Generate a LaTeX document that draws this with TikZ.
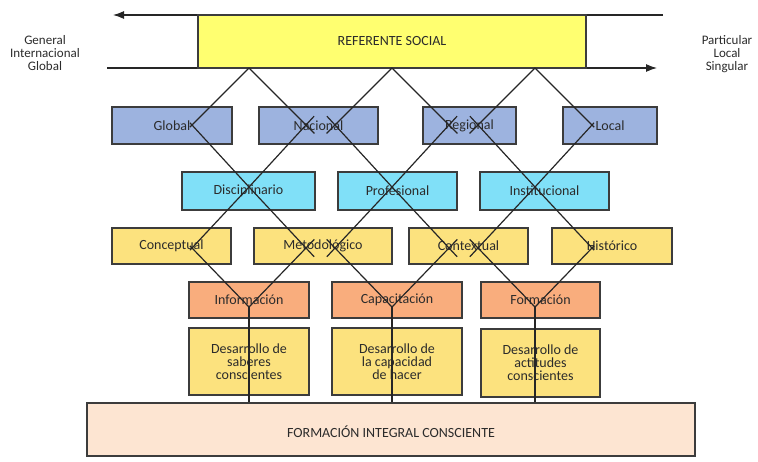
\documentclass[tikz,border=0pt]{standalone}
\usepackage{fontspec}
\setmainfont{Carlito}
\usepackage{xcolor}
\usepackage{tikz}
\usetikzlibrary{arrows.meta}

\definecolor{refyellow}{HTML}{FFFF70}
\definecolor{levblue}{HTML}{9DB3DF}
\definecolor{levcyan}{HTML}{80E0F8}
\definecolor{levgold}{HTML}{FCE27E}
\definecolor{levorange}{HTML}{F9AD7D}
\definecolor{levpeach}{HTML}{FDE5D2}
\definecolor{edgegray}{HTML}{3C3C3C}
\definecolor{txtgray}{HTML}{2B2B2B}

\begin{document}
\begin{tikzpicture}[x=1pt,y=-1pt,every node/.style={font=\fontsize{14}{13}\selectfont,text=txtgray,align=center},box/.style={draw=edgegray,line width=1.4pt,inner sep=0pt,minimum height=37pt},link/.style={line width=1.2pt,black!85}]
    \useasboundingbox (0,0) rectangle (758,461);
    % axis arrows
    \coordinate (gl) at (113,15);
    \coordinate (gr) at (663,15);
    \coordinate (pl) at (107,68);
    \coordinate (pr) at (657,68);
    \draw[link,-{Latex[length=11pt,width=8pt]}] (gr) -- (gl);
    \draw[link,-{Latex[length=11pt,width=8pt]}] (pl) -- (pr);
    \node[box,fill=refyellow,minimum width=388pt,minimum height=53pt] (ref) at (392,41.5) {REFERENTE SOCIAL};
    \node[font=\fontsize{13}{13}\selectfont] (gen) at (45,53.5) {General\\Internacional\\Global};
    \node[font=\fontsize{13}{13}\selectfont] (par) at (727,54) {Particular\\Local\\Singular};
    % levels
    \node[box,fill=levblue,minimum width=120pt] (glo) at (172,125.5) {Global};
    \node[box,fill=levblue,minimum width=119pt] (nac) at (318.5,125.5) {Nacional};
    \node[box,fill=levblue,minimum width=93pt] (reg) at (469.5,125.5) {Regional};
    \node[box,fill=levblue,minimum width=94pt] (loc) at (610,125.5) {Local};
    \node[box,fill=levcyan,minimum width=133pt,minimum height=38pt] (dis) at (248.5,191) {Disciplinario};
    \node[box,fill=levcyan,minimum width=119pt,minimum height=38pt] (pro) at (397.5,191) {Profesional};
    \node[box,fill=levcyan,minimum width=129pt,minimum height=38pt] (ins) at (544.5,191) {Institucional};
    \node[box,fill=levgold,minimum width=119pt,minimum height=36pt] (con) at (171.5,246) {Conceptual};
    \node[box,fill=levgold,minimum width=138pt,minimum height=36pt] (met) at (323,246) {Metodológico};
    \node[box,fill=levgold,minimum width=119pt,minimum height=36pt] (ctx) at (468.5,246) {Contextual};
    \node[box,fill=levgold,minimum width=120pt,minimum height=36pt] (his) at (612,246) {Histórico};
    \node[box,fill=levorange,minimum width=120pt,minimum height=36pt] (inf) at (249,300) {Información};
    \node[box,fill=levorange,minimum width=130pt,minimum height=36pt] (cap) at (397,300) {Capacitación};
    \node[box,fill=levorange,minimum width=119pt,minimum height=36pt] (frm) at (540.5,300) {Formación};
    \node[box,fill=levgold,minimum width=120pt,minimum height=67pt] (sab) at (249,361.5) {Desarrollo de\\saberes\\conscientes};
    \node[box,fill=levgold,minimum width=130pt,minimum height=67pt] (hac) at (397,361.5) {Desarrollo de\\la capacidad\\de hacer};
    \node[box,fill=levgold,minimum width=119pt,minimum height=68pt] (act) at (540.5,363) {Desarrollo de\\actitudes\\conscientes};
    \node[box,fill=levpeach,minimum width=608pt,minimum height=53pt,text height=17pt] (fic) at (391,429.5) {FORMACIÓN INTEGRAL CONSCIENTE};
    % crossing lines
    \foreach \k/\hx/\ls/\rs in {1/249/3/12,2/392/12/12,3/535/12/3}{
      \coordinate (top\k) at (\hx,68);
      \coordinate (hub\k) at (\hx,187);
      \coordinate (low\k) at (\hx,307);
      \coordinate (aL\k) at (\hx-57,125);
      \coordinate (aR\k) at (\hx+57,125);
      \coordinate (bL\k) at (\hx-57,248);
      \coordinate (bR\k) at (\hx+57,248);
      \draw[link,shorten >=-\ls pt] (top\k) -- (aL\k);
      \draw[link,shorten >=-\rs pt] (top\k) -- (aR\k);
      \draw[link,shorten >=-\ls pt] (hub\k) -- (aL\k);
      \draw[link,shorten >=-\rs pt] (hub\k) -- (aR\k);
      \draw[link,shorten >=-\ls pt] (hub\k) -- (bL\k);
      \draw[link,shorten >=-\rs pt] (hub\k) -- (bR\k);
      \draw[link,shorten >=-\ls pt] (low\k) -- (bL\k);
      \draw[link,shorten >=-\rs pt] (low\k) -- (bR\k);
      \draw[link] (low\k) -- (low\k |- fic.north);
    }
  \end{tikzpicture}
\end{document}
